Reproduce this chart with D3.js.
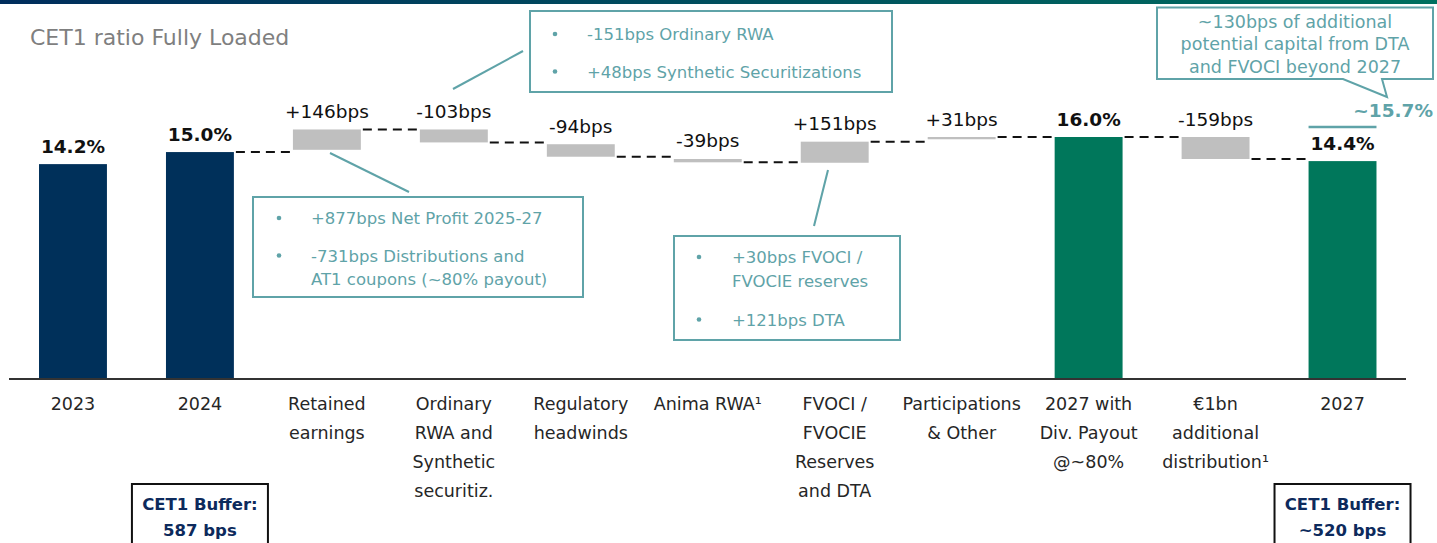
<!DOCTYPE html>
<html>
<head>
<meta charset="utf-8">
<script src="https://cdn.jsdelivr.net/npm/d3@7"></script>
<style>
  body { margin: 0; background: #fff; }
  svg { display: block; font-family: "DejaVu Sans", sans-serif; }
</style>
</head>
<body>
<svg id="chart" width="1437" height="543"></svg>
<script>
// categories (one entry per bar, lines of the axis label)
var categoryLines = [
  ['2023'],
  ['2024'],
  ['Retained', 'earnings'],
  ['Ordinary', 'RWA and', 'Synthetic', 'securitiz.'],
  ['Regulatory', 'headwinds'],
  ['Anima RWA\u00b9'],
  ['FVOCI /', 'FVOCIE', 'Reserves', 'and DTA'],
  ['Participations', '& Other'],
  ['2027 with', 'Div. Payout', '@~80%'],
  ['\u20ac1bn', 'additional', 'distribution\u00b9'],
  ['2027']
];
var kinds = ['total', 'total', 'delta', 'delta', 'delta', 'delta', 'delta', 'delta', 'final', 'delta', 'final'];
// bar start / end in % CET1 (read off the picture, not to exact scale of the bps)
var barStart = [0, 0, 15.15, 16.50, 15.52, 14.54, 14.29, 15.85, 0, 16.0, 0];
var barEnd = [14.2, 15.0, 16.50, 15.64, 14.69, 14.32, 15.69, 16.0, 16.0, 14.54, 14.4];
var barLabels = ['14.2%', '15.0%', '+146bps', '-103bps', '-94bps', '-39bps', '+151bps', '+31bps', '16.0%', '-159bps', '14.4%'];

var potentialLabel = '~15.7%';

var calloutRWA = ['-151bps Ordinary RWA', '+48bps Synthetic Securitizations'];
var calloutRetained = [['+877bps Net Profit 2025-27'], ['-731bps Distributions and', 'AT1 coupons (~80% payout)']];
var calloutFvoci = [['+30bps FVOCI /', 'FVOCIE reserves'], ['+121bps DTA']];
var calloutDta = ['~130bps of additional', 'potential capital from DTA', 'and FVOCI beyond 2027'];
var buffers = [{idx: 1, lines: ['CET1 Buffer:', '587 bps']}, {idx: 10, lines: ['CET1 Buffer:', '~520 bps']}];

var navy = '#00305a';
var green = '#00775b';
var grey = '#bfbfbf';
var teal = '#5fa3a8';

var svg = d3.select('#chart');

var xScale = d3.scaleBand()
  .domain(d3.range(categoryLines.length))
  .range([9.5, 1406])
  .paddingInner(0.465)
  .paddingOuter(0.2325);

var yScale = d3.scaleLinear()
  .domain([0, 16])
  .range([378, 137]);

// top gradient strip
var grad = svg.append('defs').append('linearGradient')
  .attr('id', 'topGrad');
grad.append('stop').attr('offset', '0%').attr('stop-color', '#002d5c');
grad.append('stop').attr('offset', '100%').attr('stop-color', '#00705f');
svg.append('rect')
  .attr('x', 0).attr('y', 0)
  .attr('width', 1437).attr('height', 4)
  .attr('fill', 'url(#topGrad)');

svg.append('text')
  .attr('x', 30).attr('y', 45)
  .attr('font-size', 22)
  .attr('fill', '#7f7f7f')
  .text('CET1 ratio Fully Loaded');

function barColor(k) {
  if (k == 'total') return navy;
  if (k == 'final') return green;
  return grey;
}

// bars
var data = categoryLines.map((c, i) => ({i: i, kind: kinds[i], s: barStart[i], e: barEnd[i], label: barLabels[i]}));

svg.selectAll('.bar')
  .data(data)
  .join('rect')
  .attr('class', 'bar')
  .attr('x', d => xScale(d.i))
  .attr('width', xScale.bandwidth())
  .attr('y', d => yScale(Math.max(d.s, d.e)))
  .attr('height', d => Math.max(2, Math.abs(yScale(d.s) - yScale(d.e))))
  .attr('fill', d => barColor(d.kind));

// dashed connectors
for (var i = 1; i < data.length - 1; i++) {
  var yy = yScale(barEnd[i]);
  svg.append('line')
    .attr('x1', xScale(i) + xScale.bandwidth() + 2)
    .attr('x2', xScale(i + 1) - 2)
    .attr('y1', yy).attr('y2', yy)
    .attr('stroke', '#111')
    .attr('stroke-width', 2)
    .attr('stroke-dasharray', '9,6');
}

// value labels
svg.selectAll('.vlab')
  .data(data)
  .join('text')
  .attr('class', 'vlab')
  .attr('x', d => xScale(d.i) + xScale.bandwidth() / 2)
  .attr('y', d => yScale(Math.max(d.s, d.e)) - 11.5)
  .attr('text-anchor', 'middle')
  .attr('font-size', 18.5)
  .attr('font-weight', d => d.kind == 'delta' ? 'normal' : 'bold')
  .attr('fill', '#111')
  .text(d => d.label);

// axis baseline
svg.append('line')
  .attr('x1', 9).attr('x2', 1406)
  .attr('y1', yScale(0) + 1).attr('y2', yScale(0) + 1)
  .attr('stroke', '#333')
  .attr('stroke-width', 2);

// category labels
var cat = svg.selectAll('.cat')
  .data(categoryLines)
  .join('text')
  .attr('class', 'cat')
  .attr('text-anchor', 'middle')
  .attr('font-size', 17.5)
  .attr('fill', '#262626');
cat.selectAll('tspan')
  .data((d, i) => d.map(l => ({l: l, i: i})))
  .join('tspan')
  .attr('x', d => xScale(d.i) + xScale.bandwidth() / 2)
  .attr('y', (d, j) => 410 + j * 29)
  .text(d => d.l);

// potential ~15.7% marker, drawn above the 2027 bar label
var lastX = xScale(10);
var markY = yScale(barEnd[10]) - 34;
svg.append('line')
  .attr('x1', lastX).attr('x2', lastX + xScale.bandwidth())
  .attr('y1', markY).attr('y2', markY)
  .attr('stroke', teal)
  .attr('stroke-width', 2.5);
svg.append('text')
  .attr('x', 1433).attr('y', markY - 10)
  .attr('text-anchor', 'end')
  .attr('font-size', 18.5)
  .attr('font-weight', 'bold')
  .attr('fill', teal)
  .text(potentialLabel);

// callout boxes
function boxRect(x, y, w, h) {
  svg.append('rect')
    .attr('x', x).attr('y', y)
    .attr('width', w).attr('height', h)
    .attr('fill', '#fff')
    .attr('stroke', teal)
    .attr('stroke-width', 2);
}
function pointer(x1, y1, x2, y2) {
  svg.append('line')
    .attr('x1', x1).attr('y1', y1)
    .attr('x2', x2).attr('y2', y2)
    .attr('stroke', teal)
    .attr('stroke-width', 2);
}
function bulletList(items, bx, tx, baselines) {
  var k = 0;
  items.forEach(item => {
    svg.append('circle')
      .attr('cx', bx).attr('cy', baselines[k] - 6)
      .attr('r', 2.3)
      .attr('fill', teal);
    item.forEach(line => {
      svg.append('text')
        .attr('x', tx).attr('y', baselines[k])
        .attr('font-size', 16.5)
        .attr('fill', teal)
        .text(line);
      k++;
    });
  });
}

// Ordinary RWA
pointer(453, 89, 523, 51);
boxRect(530, 11, 362, 81);
bulletList(calloutRWA.map(d => [d]), 555, 587, [40, 77.5]);

// Retained earnings
pointer(330, 153, 409, 192);
boxRect(253, 197, 330, 100);
bulletList(calloutRetained, 279, 311, [224, 261.5, 285]);

// FVOCI
pointer(828, 170, 814, 226);
boxRect(674, 236, 226, 104);
bulletList(calloutFvoci, 699, 732, [263, 286.5, 325.5]);

// DTA / FVOCI beyond 2027 speech bubble
svg.append('path')
  .attr('d', 'M1343,79 L1157,79 L1157,7.5 L1433,7.5 L1433,79 L1382,79 L1387,97 Z')
  .attr('fill', '#fff')
  .attr('stroke', teal)
  .attr('stroke-width', 2)
  .attr('stroke-linejoin', 'miter');
svg.selectAll('.dta')
  .data(calloutDta)
  .join('text')
  .attr('class', 'dta')
  .attr('x', 1295)
  .attr('y', (d, i) => 27.5 + i * 22.6)
  .attr('text-anchor', 'middle')
  .attr('font-size', 17.5)
  .attr('fill', teal)
  .text(d => d);

// CET1 buffer boxes
buffers.forEach(b => {
  var cx = xScale(b.idx) + xScale.bandwidth() / 2;
  svg.append('rect')
    .attr('x', cx - 68).attr('y', 484)
    .attr('width', 136).attr('height', 70)
    .attr('fill', '#fff')
    .attr('stroke', '#111')
    .attr('stroke-width', 2);
  b.lines.forEach((l, j) => {
    svg.append('text')
      .attr('x', cx).attr('y', 510 + j * 26)
      .attr('text-anchor', 'middle')
      .attr('font-size', 16.5)
      .attr('font-weight', 'bold')
      .attr('fill', '#0d2a5c')
      .text(l);
  });
});
</script>
</body>
</html>
